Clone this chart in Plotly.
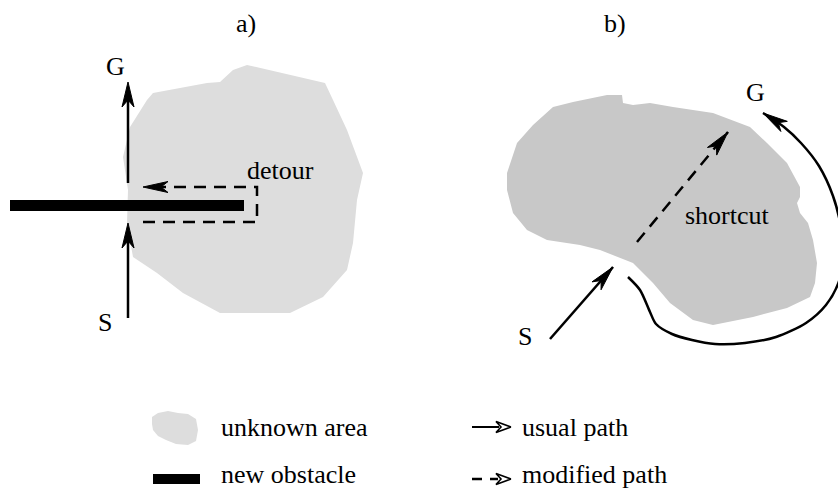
import plotly.graph_objects as go
import math

# ---------------- data (pixel-space diagram coordinates) ----------------
titles = ["a)", "b)"]
title_x = [246, 615]
title_y = [23, 23]

# panel a) unknown area outline
blob_a_x = [220, 233, 247, 313, 325, 333, 347, 363, 357, 353, 347, 323, 290, 220, 183, 157, 133, 127, 128, 123, 130, 147, 153, 180, 207]
blob_a_y = [82, 70, 65, 80, 83, 100, 130, 173, 200, 243, 270, 297, 313, 313, 293, 273, 257, 223, 190, 157, 127, 100, 93, 88, 83]

# panel b) unknown area outline
blob_b_x = [553, 573, 607, 622, 623, 633, 650, 673, 713, 750, 767, 787, 800, 800, 797, 800, 808, 813, 817, 815, 810, 787, 753, 713, 693, 670, 653, 633, 600, 580, 547, 527, 513, 507, 507, 517, 533]
blob_b_y = [107, 102, 95, 95, 103, 105, 103, 107, 113, 127, 143, 163, 187, 197, 203, 213, 223, 240, 263, 283, 297, 308, 317, 325, 320, 303, 283, 263, 250, 245, 240, 230, 213, 190, 173, 143, 125]

# legend icon outline
legend_blob_x = [152, 158, 168, 178, 188, 196, 198, 196, 188, 176, 166, 158, 153, 152]
legend_blob_y = [417, 413, 411, 413, 414, 419, 430, 441, 445, 444, 440, 436, 430, 424]

# new obstacle (bar) in a)
obstacle_x = [10, 244]
obstacle_y = [205.5, 205.5]
legend_bar_x = [153, 200]
legend_bar_y = [479, 479]

# a) usual path (two arrow segments)
a_up_x = [128, 128]
a_up_y = [183, 82]
a_low_x = [128, 128]
a_low_y = [318, 223]
# a) detour (dashed)
detour_x = [143, 257, 257, 143]
detour_y = [222, 222, 187, 187]

# b) usual path
b_start_x = [550, 613]
b_start_y = [339, 267]
b_round_x = [628, 640, 650, 656, 672, 692, 715, 745, 776, 806, 826, 838, 843, 841, 833, 819, 801, 784, 763]
b_round_y = [277, 290, 312, 324, 334, 340, 344, 343, 337, 323, 305, 284, 260, 228, 196, 166, 143, 127, 113]
# b) shortcut (dashed)
shortcut_x = [637, 728]
shortcut_y = [242, 132]

labels = ["G", "S", "detour", "G", "S", "shortcut"]
label_x = [115, 105, 280, 755, 525, 727]
label_y = [66, 322, 170, 92, 336, 215]

legend_text = ["unknown area", "new obstacle", "usual path", "modified path"]
legend_text_x = [220, 220, 521, 521]
legend_text_y = [427, 474.5, 427, 474.5]
legend_line_x = [472, 511]
legend_line_y = [427, 479]

FONT = "Liberation Serif"
FS = 26
LIGHT = "#dddddd"
MID = "#c8c8c8"


def head(tip, frm, length=25, width=12, notch=7):
    dx, dy = tip[0] - frm[0], tip[1] - frm[1]
    n = math.hypot(dx, dy)
    dx, dy = dx / n, dy / n
    px, py = -dy, dx
    bx, by = tip[0] - dx * length, tip[1] - dy * length
    nx, ny = tip[0] - dx * (length - notch), tip[1] - dy * (length - notch)
    xs = [tip[0], bx + px * width / 2, nx, bx - px * width / 2, tip[0]]
    ys = [tip[1], by + py * width / 2, ny, by - py * width / 2, tip[1]]
    return xs, ys


fig = go.Figure()


def poly(xs, ys, fill, line="rgba(0,0,0,0)", lw=0):
    fig.add_trace(go.Scatter(x=list(xs) + [xs[0]], y=list(ys) + [ys[0]], mode="lines",
                             fill="toself", fillcolor=fill,
                             line=dict(color=line, width=lw), hoverinfo="skip"))


def line(xs, ys, width=2.5, dash="solid", shape="linear"):
    fig.add_trace(go.Scatter(x=xs, y=ys, mode="lines",
                             line=dict(color="black", width=width, dash=dash, shape=shape, smoothing=0.8),
                             hoverinfo="skip"))


# areas
poly(blob_a_x, blob_a_y, LIGHT)
poly(blob_b_x, blob_b_y, MID)
poly(legend_blob_x, legend_blob_y, LIGHT)

# obstacles
line(obstacle_x, obstacle_y, width=11)
line(legend_bar_x, legend_bar_y, width=10)

# a) paths
line(a_up_x, [a_up_y[0], a_up_y[1] + 15])
hx, hy = head((a_up_x[1], a_up_y[1]), (a_up_x[0], a_up_y[0]))
poly(hx, hy, "black", "black", 1)
line(a_low_x, [a_low_y[0], a_low_y[1] + 15])
hx, hy = head((a_low_x[1], a_low_y[1]), (a_low_x[0], a_low_y[0]))
poly(hx, hy, "black", "black", 1)

line(detour_x[:-1] + [detour_x[-1] + 15], detour_y, dash="12px,8px")
hx, hy = head((detour_x[-1], detour_y[-1]), (detour_x[-2], detour_y[-2]), width=11)
poly(hx, hy, "black", "black", 1)

# b) paths
line(b_start_x, b_start_y)
hx, hy = head((b_start_x[1], b_start_y[1]), (b_start_x[0], b_start_y[0]))
poly(hx, hy, "black", "black", 1)
line(b_round_x, b_round_y, shape="spline")
hx, hy = head((b_round_x[-1], b_round_y[-1]), (785, 127))
poly(hx, hy, "black", "black", 1)
line(shortcut_x, shortcut_y, dash="12px,8px")
hx, hy = head((shortcut_x[1], shortcut_y[1]), (shortcut_x[0], shortcut_y[0]))
poly(hx, hy, "black", "black", 1)

# legend arrows (open heads)
line([legend_line_x[0], legend_line_x[1] - 12], [legend_line_y[0]] * 2, width=2)
hx, hy = head((legend_line_x[1], legend_line_y[0]), (legend_line_x[0], legend_line_y[0]), length=15, width=11, notch=5)
poly(hx, hy, "white", "black", 1.6)
line([legend_line_x[0], legend_line_x[1] - 13], [legend_line_y[1]] * 2, width=2.5, dash="10px,8px")
hx, hy = head((legend_line_x[1], legend_line_y[1]), (legend_line_x[0], legend_line_y[1]), length=15, width=11, notch=5)
poly(hx, hy, "white", "black", 1.6)

ann = []
for t, x, y in zip(titles, title_x, title_y):
    ann.append(dict(x=x, y=y, text=t, showarrow=False, xanchor="center", yanchor="middle"))
for t, x, y in zip(labels, label_x, label_y):
    ann.append(dict(x=x, y=y, text=t, showarrow=False, xanchor="center", yanchor="middle"))
for t, x, y in zip(legend_text, legend_text_x, legend_text_y):
    ann.append(dict(x=x, y=y, text=t, showarrow=False, xanchor="left", yanchor="middle"))
for a in ann:
    a.update(xref="x", yref="y", borderpad=0, font=dict(family=FONT, size=FS, color="black"))

fig.update_layout(
    width=838, height=490, margin=dict(l=0, r=0, t=0, b=0),
    paper_bgcolor="white", plot_bgcolor="white", showlegend=False,
    font=dict(family=FONT, size=FS),
    xaxis=dict(range=[0, 838], visible=False, fixedrange=True),
    yaxis=dict(range=[490, 0], visible=False, fixedrange=True),
    annotations=ann,
)
fig.write_html("out.html", config={"displayModeBar": False},
               post_script="document.body.style.margin='0px';document.body.style.overflow='hidden';")
